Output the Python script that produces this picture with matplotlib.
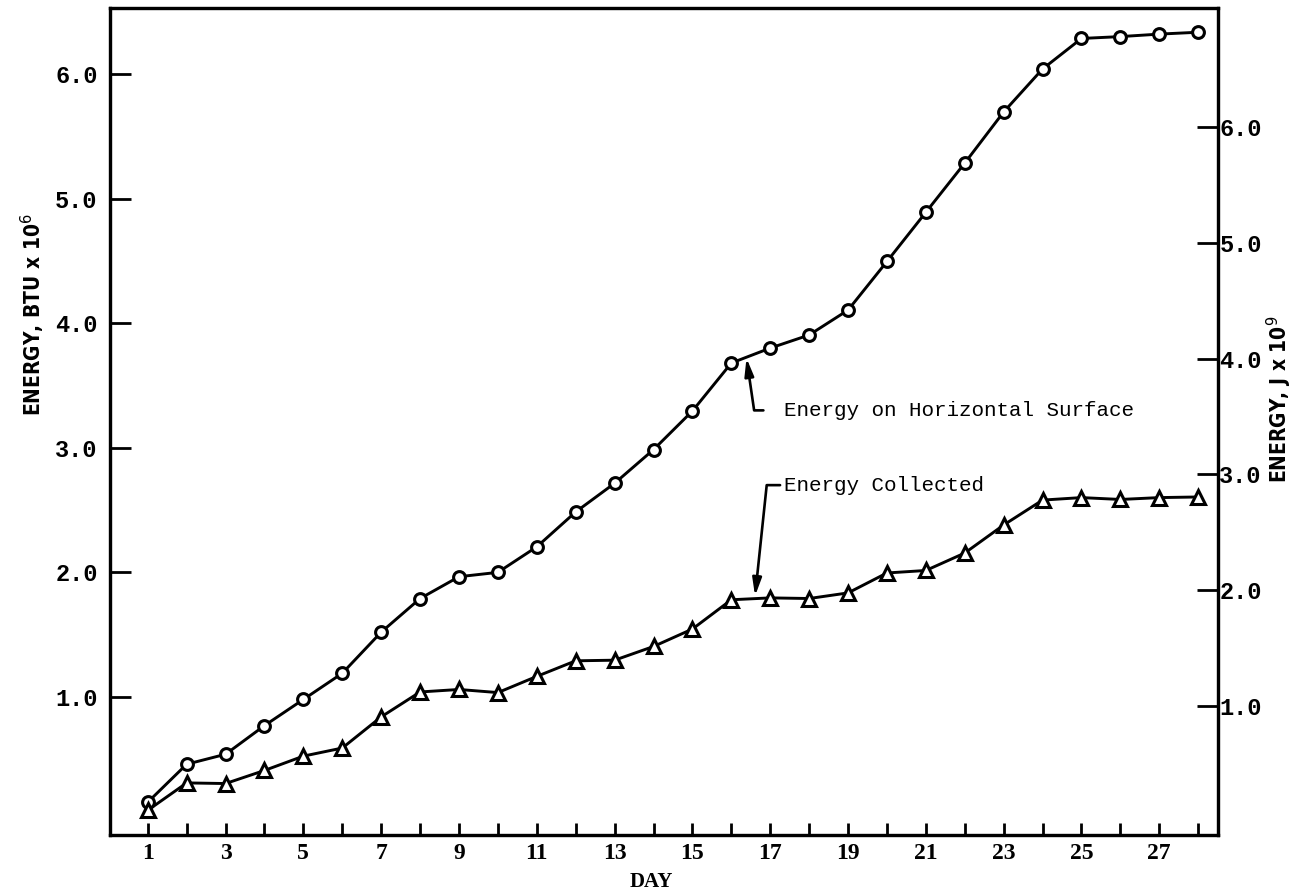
import matplotlib
matplotlib.use("Agg")
import matplotlib.pyplot as plt
from matplotlib import font_manager

# data (BTU x 10^6)
days = list(range(1, 29))
horizontal = [0.155, 0.46, 0.54, 0.77, 0.98, 1.19, 1.52, 1.79, 1.965, 2.0,
              2.205, 2.485, 2.715, 2.985, 3.295, 3.68, 3.80, 3.905, 4.105, 4.495,
              4.89, 5.285, 5.695, 6.04, 6.285, 6.30, 6.32, 6.335]
collected = [0.09, 0.31, 0.305, 0.41, 0.525, 0.59, 0.84, 1.04, 1.06, 1.035,
             1.165, 1.29, 1.295, 1.405, 1.545, 1.78, 1.795, 1.79, 1.835, 1.995,
             2.015, 2.155, 2.38, 2.58, 2.60, 2.585, 2.60, 2.605]

left_ticks = [1, 2, 3, 4, 5, 6]
right_ticks = [1, 2, 3, 4, 5, 6]
j_per_btu = 1.077   # scale of the right axis as drawn

mono = ["Liberation Mono", "DejaVu Sans Mono"]
serif = ["Liberation Serif", "DejaVu Serif"]
have = {f.name for f in font_manager.fontManager.ttflist}
narrow = [n for n in ["Liberation Sans Narrow", "DejaVu Sans"] if n in have]

fig = plt.figure(figsize=(13.02, 8.94), dpi=100)
ax = fig.add_axes([0.0845, 0.066, 0.851, 0.9247])

ax.plot(days, horizontal, color="black", lw=2.1, marker="o", ms=8.5,
        mfc="white", mec="black", mew=2.2, zorder=3)
ax.plot(days, collected, color="black", lw=2.1, marker="^", ms=9.5,
        mfc="white", mec="black", mew=2.2, zorder=3)

ax.set_xlim(0.03, 28.51)
ax.set_ylim(-0.108, 6.527)

ax.set_xticks(days)
ax.set_xticklabels([str(d) if d % 2 == 1 else "" for d in days],
                   family=serif, fontweight="bold", fontsize=17)
ax.set_yticks(left_ticks)
ax.set_yticklabels(["%.1f" % t for t in left_ticks], family=mono,
                   fontweight="bold", fontsize=17)
ax.tick_params(axis="x", direction="in", length=9, width=2, pad=6)
ax.tick_params(axis="y", direction="in", length=15, width=2, pad=9)
for s in ax.spines.values():
    s.set_linewidth(2.3)

ax2 = ax.twinx()
lo, hi = ax.get_ylim()
ax2.set_ylim(lo * j_per_btu, hi * j_per_btu)
ax2.set_yticks(right_ticks)
ax2.set_yticklabels(["%.1f" % t for t in right_ticks], family=mono,
                    fontweight="bold", fontsize=17)
ax2.tick_params(axis="y", direction="in", length=15, width=2, pad=1)
for s in ax2.spines.values():
    s.set_linewidth(2.3)

fig.text(0.5, 0.002, "DAY", ha="center", va="bottom", family=serif,
         fontweight="bold", fontsize=15)
fig.text(0.025, 0.648, "ENERGY, BTU x 10$^6$", rotation=90, ha="center",
         va="center", family=narrow, fontweight="bold", fontstretch="condensed",
         fontsize=15)
fig.text(0.983, 0.553, "ENERGY, J x 10$^9$", rotation=90, ha="center",
         va="center", family=narrow, fontweight="bold", fontstretch="condensed",
         fontsize=15)

arrow = dict(arrowstyle="-|>,head_length=0.7,head_width=0.18", color="black",
             lw=1.9, shrinkB=0)
ax.annotate("Energy on Horizontal Surface", xy=(16.39, 3.72),
            xytext=(17.36, 3.30), ha="left", va="center", family=mono,
            fontsize=15,
            arrowprops=dict(arrow, shrinkA=13, relpos=(0, 0.5),
                            connectionstyle="angle,angleA=0,angleB=-81.7,rad=0"))
ax.annotate("Energy Collected", xy=(16.61, 1.81),
            xytext=(17.36, 2.70), ha="left", va="center", family=mono,
            fontsize=15,
            arrowprops=dict(arrow, shrinkA=1, relpos=(0, 0.5),
                            connectionstyle="angle,angleA=0,angleB=-96,rad=0"))

fig.savefig("out.png", dpi=100)
